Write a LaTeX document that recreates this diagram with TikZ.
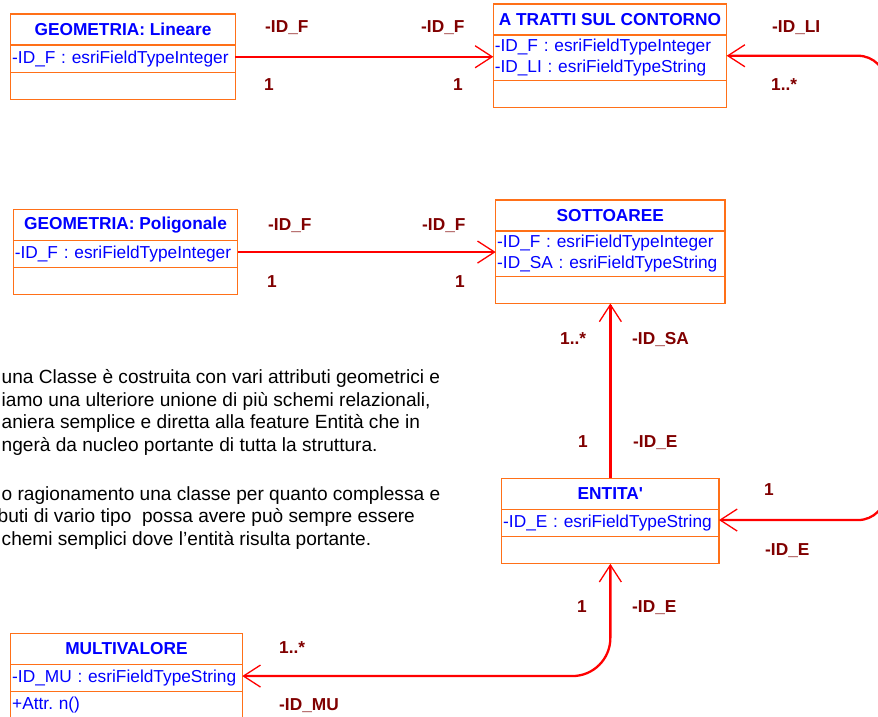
\documentclass[tikz,border=0pt]{standalone}
\usepackage{fontspec}
\setmainfont{Liberation Sans}
\usetikzlibrary{positioning,arrows.meta}

\definecolor{classorange}{RGB}{255,112,24}
\definecolor{classblue}{RGB}{0,0,255}
\definecolor{rolered}{RGB}{128,0,0}
\definecolor{linkred}{RGB}{255,0,0}

\newcommand{\umlfont}{\fontsize{17.3pt}{20.7pt}\selectfont\frenchspacing}
\newcommand{\notefont}{\fontsize{19.1pt}{22.4pt}\selectfont\frenchspacing}

\begin{document}
\begin{tikzpicture}
 [x=1pt, y=-1pt,
  class name/.style={draw=classorange, line width=1.3pt, outer sep=0pt, inner sep=0pt,
    anchor=north west, minimum height=31pt, font=\umlfont\bfseries, text=classblue},
  class attr/.style={draw=classorange, line width=1.3pt, outer sep=0pt, inner xsep=1.5pt,
    inner ysep=0pt, text width=#1, align=left, minimum height=27.5pt, font=\umlfont, text=classblue},
  class ops/.style={class attr=#1, minimum height=27pt},
  role/.style={anchor=base west, inner sep=0pt, font=\umlfont\bfseries, text=rolered},
  note/.style={anchor=base west, inner sep=0pt, align=left, font=\notefont},
  link/.style={draw=linkred, line width=2.3pt},
  >={Straight Barb[length=17pt, width=22pt, line width'=1.3pt]}]

\useasboundingbox (0,0) rectangle (878,716);
\clip (0,0) rectangle (878,716);

% classes
\node[class name, minimum width=224.6pt] (geolin) at (10.7,14) {GEOMETRIA: Lineare};
\node[class attr=221.6pt, below=0pt of geolin] (geolin-a) {-ID\_F : esriFieldTypeInteger};
\node[class ops=221.6pt, below=0pt of geolin-a] (geolin-o) {};

\node[class name, minimum width=233.4pt] (tratti) at (493.3,4) {A TRATTI SUL CONTORNO};
\node[class attr=230.4pt, minimum height=45.5pt, below=0pt of tratti] (tratti-a)
  {-ID\_F : esriFieldTypeInteger\\-ID\_LI : esriFieldTypeString};
\node[class ops=230.4pt, below=0pt of tratti-a] (tratti-o) {};

\node[class name, minimum width=224.4pt] (geopol) at (13.3,209.3) {GEOMETRIA: Poligonale};
\node[class attr=221.4pt, below=0pt of geopol] (geopol-a) {-ID\_F : esriFieldTypeInteger};
\node[class ops=221.4pt, below=0pt of geopol-a] (geopol-o) {};

\node[class name, minimum width=229.3pt] (sotto) at (495.7,200) {SOTTOAREE};
\node[class attr=226.3pt, minimum height=45.5pt, below=0pt of sotto] (sotto-a)
  {-ID\_F : esriFieldTypeInteger\\-ID\_SA : esriFieldTypeString};
\node[class ops=226.3pt, below=0pt of sotto-a] (sotto-o) {};

\node[class name, minimum width=217.3pt] (ent) at (501.7,478.3) {ENTITA\textquotesingle};
\node[class attr=214.3pt, below=0pt of ent] (ent-a) {-ID\_E : esriFieldTypeString};
\node[class ops=214.3pt, below=0pt of ent-a] (ent-o) {};

\node[class name, minimum width=231.6pt] (multi) at (10.7,633.3) {MULTIVALORE};
\node[class attr=228.6pt, below=0pt of multi] (multi-a) {-ID\_MU : esriFieldTypeString};
\node[class ops=228.6pt, below=0pt of multi-a] (multi-o) {+Attr. n()};

% free bend on the right
\coordinate (bend) at (886,0);

% associations
\draw[link, ->] ([yshift=2pt]geolin-a.east) -- ([yshift=2pt]geolin-a.east -| tratti-a.west);
\draw[link, ->] ([yshift=2pt]geopol-a.east) -- ([yshift=2pt]geopol-a.east -| sotto-a.west);
\draw[link, <->, rounded corners=28pt] ([yshift=2pt]tratti-a.east) -- ([yshift=2pt]tratti-a.east -| bend)
  -- ([yshift=3pt]ent-a.east -| bend) -- ([yshift=3pt]ent-a.east);
\draw[link, ->] (ent.north) -- (sotto-o.south);
\draw[link, <->, rounded corners=38pt] ([yshift=2pt]multi-a.east) -| (ent-o.south);

% roles and multiplicities
\node[role] (r1) at (265,32) {-ID\_F};
\node[role] (r2) at (421,32) {-ID\_F};
\node[role] (r3) at (772,32) {-ID\_LI};
\node[role] (m1) at (264,90) {1};
\node[role] (m2) at (453,90) {1};
\node[role] (m3) at (771,90) {1..*};

\node[role] (r4) at (268,230) {-ID\_F};
\node[role] (r5) at (422,230) {-ID\_F};
\node[role] (m4) at (267,287) {1};
\node[role] (m5) at (455,287) {1};

\node[role] (m6) at (560,344) {1..*};
\node[role] (r6) at (632,344) {-ID\_SA};
\node[role] (m7) at (578,447) {1};
\node[role] (r7) at (633,447) {-ID\_E};

\node[role] (m8) at (764,495) {1};
\node[role] (r8) at (765,555) {-ID\_E};

\node[role] (m9) at (577,612) {1};
\node[role] (r9) at (632,612) {-ID\_E};
\node[role] (m10) at (279,653) {1..*};
\node[role] (r10) at (279,710) {-ID\_MU};

% text on the left (anchored on the last line)
\node[note] (note1) at (1.5,451) {una Classe è costruita con vari attributi geometrici e\\
  iamo una ulteriore unione di più schemi relazionali,\\
  aniera semplice e diretta alla feature Entità che in\\
  ngerà da nucleo portante di tutta la struttura.};
\node[note] (note2) at (1.5,545) {o ragionamento una classe per quanto complessa e\\
  \hspace*{-4pt}buti di vario tipo\ \ possa avere può sempre essere\\
  chemi semplici dove l’entità risulta portante.};

\end{tikzpicture}
\end{document}
